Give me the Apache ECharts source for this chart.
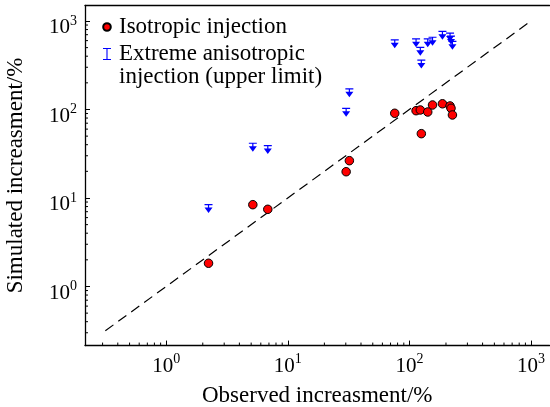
<!DOCTYPE html>
<html><head><meta charset="utf-8">
<script src="https://cdn.jsdelivr.net/npm/echarts@6/dist/echarts.min.js"></script>
<style>html,body{margin:0;padding:0;background:#fff;overflow:hidden}#chart{width:550px;height:407px}</style>
</head><body><div id="chart"></div>
<script>
// Observed vs simulated increasement (%), both axes logarithmic
const observed      = [2.23, 5.16, 6.85, 32.1, 30.2, 75.8, 113.5, 123, 141.6, 155, 187, 216, 220, 226, 125.4];
const simIsotropic  = [1.83, 8.40, 7.45, 26.4, 19.8, 90.6, 96.9, 98.7, 93.7, 112.4, 116, 109.6, 103.2, 86.7, 53.3];
const simAnisoUpper = [8.55, 42.2, 39.7, 173.7, 104.8, 621, 638, 512, 638, 665, 777, 741, 686, 599, 367];
const identityLine  = [0.316, 1000];
const xMin = 0.215, xMax = 1420;
const yMin = 0.215, yMax = 1500;
const decadeExps = [-1, 0, 1, 2, 3];
const minorMantissa = [2, 3, 4, 5, 6, 7, 8, 9];

const FONT = 'Liberation Serif';
const nameIso = 'Isotropic injection';
const nameAniso = 'Extreme anisotropic\ninjection (upper limit)';

function minorTicksIn(lo, hi) {
  const out = [];
  decadeExps.forEach(e => minorMantissa.forEach(m => {
    const v = m * Math.pow(10, e);
    if (v > lo && v < hi) out.push(v);
  }));
  return out;
}

function decadeLabel(v) {
  const e = Math.log10(v);
  if (Math.abs(e - Math.round(e)) > 1e-6) return '';
  return '{b|10}{s|' + Math.round(e) + '}';
}
// base digits pushed down, exponent left at the line centre
const labelRich = {
  b: { fontFamily: FONT, fontSize: 21, color: '#000', padding: [14, 0, 0, 0] },
  s: { fontFamily: FONT, fontSize: 14, color: '#000' }
};
const frameLine = { show: true, lineStyle: { color: '#000', width: 1.3 } };

function logAxis(lo, hi, extra, labelMargin) {
  return Object.assign({
    type: 'log', logBase: 10, min: lo, max: hi,
    axisLine: frameLine,
    axisTick: { show: true, inside: true, length: 5, lineStyle: { color: '#000', width: 1 } },
    splitLine: { show: false },
    axisLabel: { formatter: decadeLabel, rich: labelRich, margin: labelMargin, showMinLabel: false, showMaxLabel: false },
    nameLocation: 'middle',
    nameTextStyle: { fontFamily: FONT, fontSize: 23, color: '#000' }
  }, extra);
}

// down-pointing upper-limit marker: cap, short stem, arrow head
const upperLimitSymbol = 'path://M0,0H8V1.2H0Z M3.4,1.2H4.6V3.5H3.4Z M0,3.5H8L4,9Z';
// legend glyphs sit in a 14x36 box; the bar glyph is raised to the first text line
const legendCircle = 'path://M0,0h0.01M14,36h0.01M10.8,18A3.8,3.8,0,1,1,3.2,18A3.8,3.8,0,1,1,10.8,18Z';
const legendBar = 'path://M0,0h0.01M14,36h0.01M3,0.5H11V1.6H7.55V11.4H11V12.5H3V11.4H6.45V1.6H3Z';

function minorTickSeries(isX) {
  const ticks = isX ? minorTicksIn(xMin, xMax) : minorTicksIn(yMin, yMax);
  return {
    type: 'custom', silent: true, clip: false, z: 5,
    data: ticks.map(v => isX ? [v, yMin] : [xMin, v]),
    renderItem: function (params, api) {
      const p = api.coord([api.value(0), api.value(1)]);
      const len = 3;
      return {
        type: 'line',
        shape: isX ? { x1: p[0], y1: p[1], x2: p[0], y2: p[1] - len }
                   : { x1: p[0], y1: p[1], x2: p[0] + len, y2: p[1] },
        style: { stroke: '#000', lineWidth: 1 }
      };
    }
  };
}

// pixels per decade on each axis
const xDecadePx = 121.6, yDecadePx = 88.5;
const gridW = (Math.log10(xMax) - Math.log10(xMin)) * xDecadePx;
const gridH = (Math.log10(yMax) - Math.log10(yMin)) * yDecadePx;

const chart = echarts.init(document.getElementById('chart'), null, { renderer: 'canvas' });
chart.setOption({
  animation: false,
  backgroundColor: '#fff',
  grid: {
    left: 85, top: 5.4, width: gridW, height: gridH,
    outerBoundsMode: 'none', containLabel: false, show: false
  },
  xAxis: [
    logAxis(xMin, xMax, { name: 'Observed increasment/%', nameGap: 39 }, -4),
    // plain top frame line, no ticks or labels
    { type: 'value', position: 'top', min: 0, max: 1, axisLine: frameLine,
      axisTick: { show: false }, axisLabel: { show: false }, splitLine: { show: false } }
  ],
  yAxis: logAxis(yMin, yMax, { name: 'Simulated increasment/%', nameGap: 58 }, 8),
  legend: {
    orient: 'vertical', left: 99, top: 8, padding: 0,
    itemWidth: 14, itemHeight: 36, itemGap: -3.5,
    textStyle: { fontFamily: FONT, fontSize: 23, color: '#000', lineHeight: 23 },
    selectedMode: false,
    data: [
      { name: nameIso, icon: legendCircle },
      { name: nameAniso, icon: legendBar }
    ]
  },
  series: [
    {
      type: 'line', data: identityLine.map(v => [v, v]), symbol: 'none', silent: true,
      lineStyle: { color: '#000', width: 1.2, type: [10, 6] }, z: 1
    },
    {
      name: nameAniso, type: 'scatter',
      data: observed.map((x, i) => [x, simAnisoUpper[i]]),
      symbol: upperLimitSymbol, symbolSize: [8, 9], symbolOffset: [0, 4.5],
      itemStyle: { color: '#0000ff', opacity: 1 }, z: 3
    },
    {
      name: nameIso, type: 'scatter',
      data: observed.map((x, i) => [x, simIsotropic[i]]),
      symbol: 'circle', symbolSize: 8.5,
      itemStyle: { color: '#ff0000', borderColor: '#000', borderWidth: 1, opacity: 1 }, z: 4
    },
    minorTickSeries(true),
    minorTickSeries(false)
  ]
});
</script>
</body></html>
